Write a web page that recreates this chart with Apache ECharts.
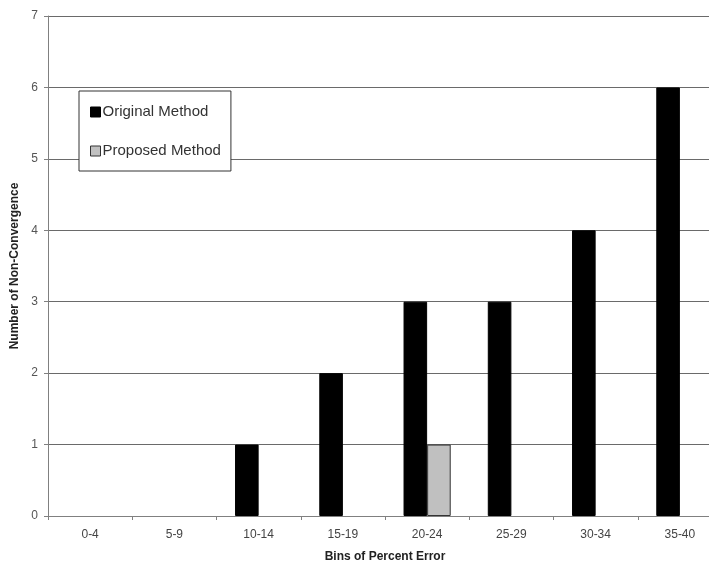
<!DOCTYPE html>
<html>
<head>
<meta charset="utf-8">
<script src="https://cdn.jsdelivr.net/npm/echarts@6/dist/echarts.min.js"></script>
<style>html,body{margin:0;padding:0;background:#fff;overflow:hidden}#c{width:709px;height:562px}</style>
</head>
<body>
<div id="c"></div>
<script>
var categories = ['0-4', '5-9', '10-14', '15-19', '20-24', '25-29', '30-34', '35-40'];
var originalMethod = [0, 0, 1, 2, 3, 3, 4, 6];
var proposedMethod = [0, 0, 0, 0, 1, 0, 0, 0];
var yTicks = [0, 1, 2, 3, 4, 5, 6, 7];

function barData(arr) {
  return arr.map(function (v) { return v === 0 ? null : v; });
}

var chart = echarts.init(document.getElementById('c'));
var font = '"Liberation Sans", Arial, sans-serif';
chart.setOption({
  animation: false,
  backgroundColor: '#fff',
  textStyle: { fontFamily: font },
  grid: { left: 48, top: 16, width: 674, height: 500, containLabel: false, outerBoundsMode: 'none' },
  legend: {
    orient: 'vertical',
    left: 79, top: 91,
    padding: [13, 10, 12, 11],
    itemGap: 23,
    itemWidth: 10, itemHeight: 10,
    borderColor: '#333', borderWidth: 1,
    backgroundColor: '#fff',
    textStyle: { fontFamily: font, fontSize: 15, lineHeight: 16, color: '#333', padding: [0, 0, 0, -3] },
    data: [
      { name: 'Original Method', icon: 'rect', itemStyle: { color: '#000', borderColor: '#000', borderWidth: 1 } },
      { name: 'Proposed Method', icon: 'rect', itemStyle: { color: '#c0c0c0', borderColor: '#333', borderWidth: 1 } }
    ]
  },
  xAxis: {
    type: 'category',
    data: categories,
    name: 'Bins of Percent Error',
    nameLocation: 'middle',
    nameGap: 35,
    nameTextStyle: { fontFamily: font, fontSize: 12, fontWeight: 'bold', color: '#222' },
    axisLine: { lineStyle: { color: '#808080', width: 1 } },
    axisTick: { show: true, length: 4, inside: false, lineStyle: { color: '#808080' } },
    axisLabel: { fontFamily: font, fontSize: 12, color: '#444', margin: 13 },
    splitLine: { show: false }
  },
  yAxis: {
    type: 'value',
    min: yTicks[0], max: yTicks[yTicks.length - 1], interval: 1,
    name: 'Number of Non-Convergence',
    nameLocation: 'middle',
    nameGap: 21,
    nameTextStyle: { fontFamily: font, fontSize: 12, fontWeight: 'bold', color: '#222' },
    axisLine: { show: true, lineStyle: { color: '#808080', width: 1 } },
    axisTick: { show: true, length: 4, lineStyle: { color: '#808080' } },
    axisLabel: { fontFamily: font, fontSize: 12, color: '#555', margin: 10 },
    splitLine: { show: true, lineStyle: { color: '#6a6a6a', width: 1 } }
  },
  series: [
    {
      name: 'Original Method', type: 'bar', data: barData(originalMethod),
      barGap: '0%', barCategoryGap: '44%',
      itemStyle: { color: '#000', borderColor: '#000', borderWidth: 1 }
    },
    {
      name: 'Proposed Method', type: 'bar', data: barData(proposedMethod),
      barGap: '0%', barCategoryGap: '44%',
      itemStyle: { color: '#c0c0c0', borderColor: '#333', borderWidth: 1 }
    }
  ]
});
</script>
</body>
</html>
